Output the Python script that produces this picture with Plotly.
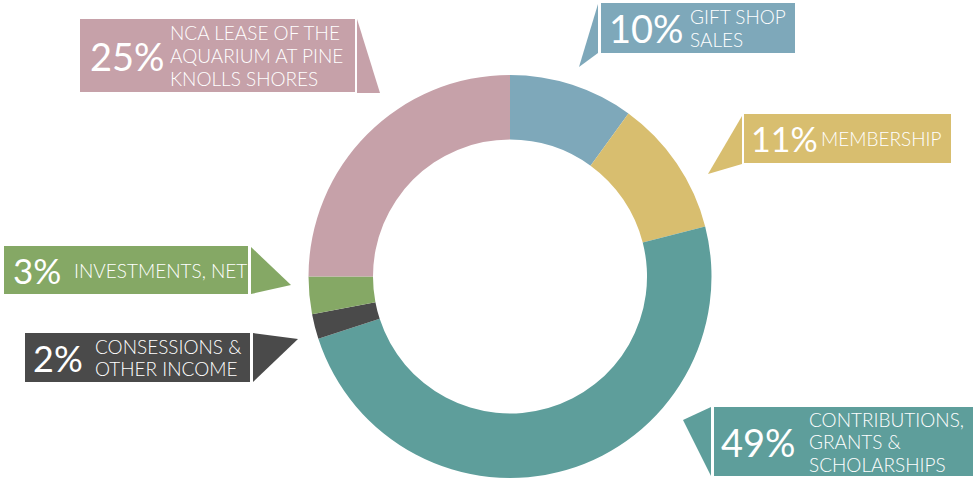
import plotly.graph_objects as go

W, H = 973, 481

categories = ["GIFT SHOP<br>SALES", "MEMBERSHIP", "CONTRIBUTIONS,<br>GRANTS &<br>SCHOLARSHIPS",
              "CONSESSIONS &<br>OTHER INCOME", "INVESTMENTS, NET",
              "NCA LEASE OF THE<br>AQUARIUM AT PINE<br>KNOLLS SHORES"]
values = [10, 11, 49, 2, 3, 25]
colors = ["#7EA8BA", "#D8BE6F", "#5E9E9B", "#4A4A4A", "#85A865", "#C6A1A9"]

# callout layout (pixels): box x0,y0,x1,y1 ; pointer polygon ; pct text x ; label x ; pct size
callouts = [
    dict(box=(601, 3, 795, 53), ptr=[(598, 4), (579, 67), (598, 53)], px=607, lx=688, ps=38),
    dict(box=(744, 114, 951, 163), ptr=[(742, 116), (708, 174), (742, 164)], px=749, lx=819, ps=34),
    dict(box=(714, 407, 973, 476), ptr=[(711, 407), (683, 420), (711, 476)], px=719, lx=807, ps=38),
    dict(box=(25, 333, 250, 382), ptr=[(253, 333), (298, 339), (253, 382)], px=31, lx=93, ps=36),
    dict(box=(4, 246, 248, 294), ptr=[(251, 247), (291, 285), (251, 294)], px=11, lx=72, ps=35),
    dict(box=(80, 19, 355, 92), ptr=[(357, 19), (380, 93), (357, 93)], px=88, lx=168, ps=38),
]
LINE = 22.5

def fx(x):
    return x / W

def fy(y):
    return 1 - y / H

fig = go.Figure(go.Pie(
    labels=categories, values=values, sort=False, direction="clockwise",
    hole=0.68, marker=dict(colors=colors), textinfo="none", showlegend=False,
    domain=dict(x=[fx(308), fx(712)], y=[fy(478), fy(75)]),
))

shapes, annotations = [], []
for c, lab, v, col in zip(callouts, categories, values, colors):
    x0, y0, x1, y1 = c["box"]
    shapes.append(dict(type="rect", xref="paper", yref="paper", x0=fx(x0), x1=fx(x1),
                       y0=fy(y1), y1=fy(y0), fillcolor=col, line=dict(width=0), layer="below"))
    path = "M " + " L ".join(f"{fx(a):.5f},{fy(b):.5f}" for a, b in c["ptr"]) + " Z"
    shapes.append(dict(type="path", xref="paper", yref="paper", path=path,
                       fillcolor=col, line=dict(width=0), layer="below"))
    yc = (y0 + y1) / 2
    annotations.append(dict(x=fx(c["px"]), y=fy(yc), xref="paper", yref="paper", text=f"{v}%",
                            showarrow=False, xanchor="left", yanchor="middle",
                            font=dict(family="Lato", size=c["ps"], color="white", weight=400)))
    lines = lab.split("<br>")
    n = len(lines)
    for i, ln in enumerate(lines):
        ly = yc + (i - (n - 1) / 2) * LINE
        annotations.append(dict(x=fx(c["lx"]), y=fy(ly), xref="paper", yref="paper", text=ln,
                                showarrow=False, xanchor="left", yanchor="middle", align="left",
                                font=dict(family="Lato", size=19, color="white", weight=300)))

fig.update_layout(width=W, height=H, margin=dict(l=0, r=0, t=0, b=0),
                  paper_bgcolor="white", plot_bgcolor="white",
                  shapes=shapes, annotations=annotations)

fig.write_html("out.html", config={"displayModeBar": False},
               post_script="document.body.style.margin='0px';")
